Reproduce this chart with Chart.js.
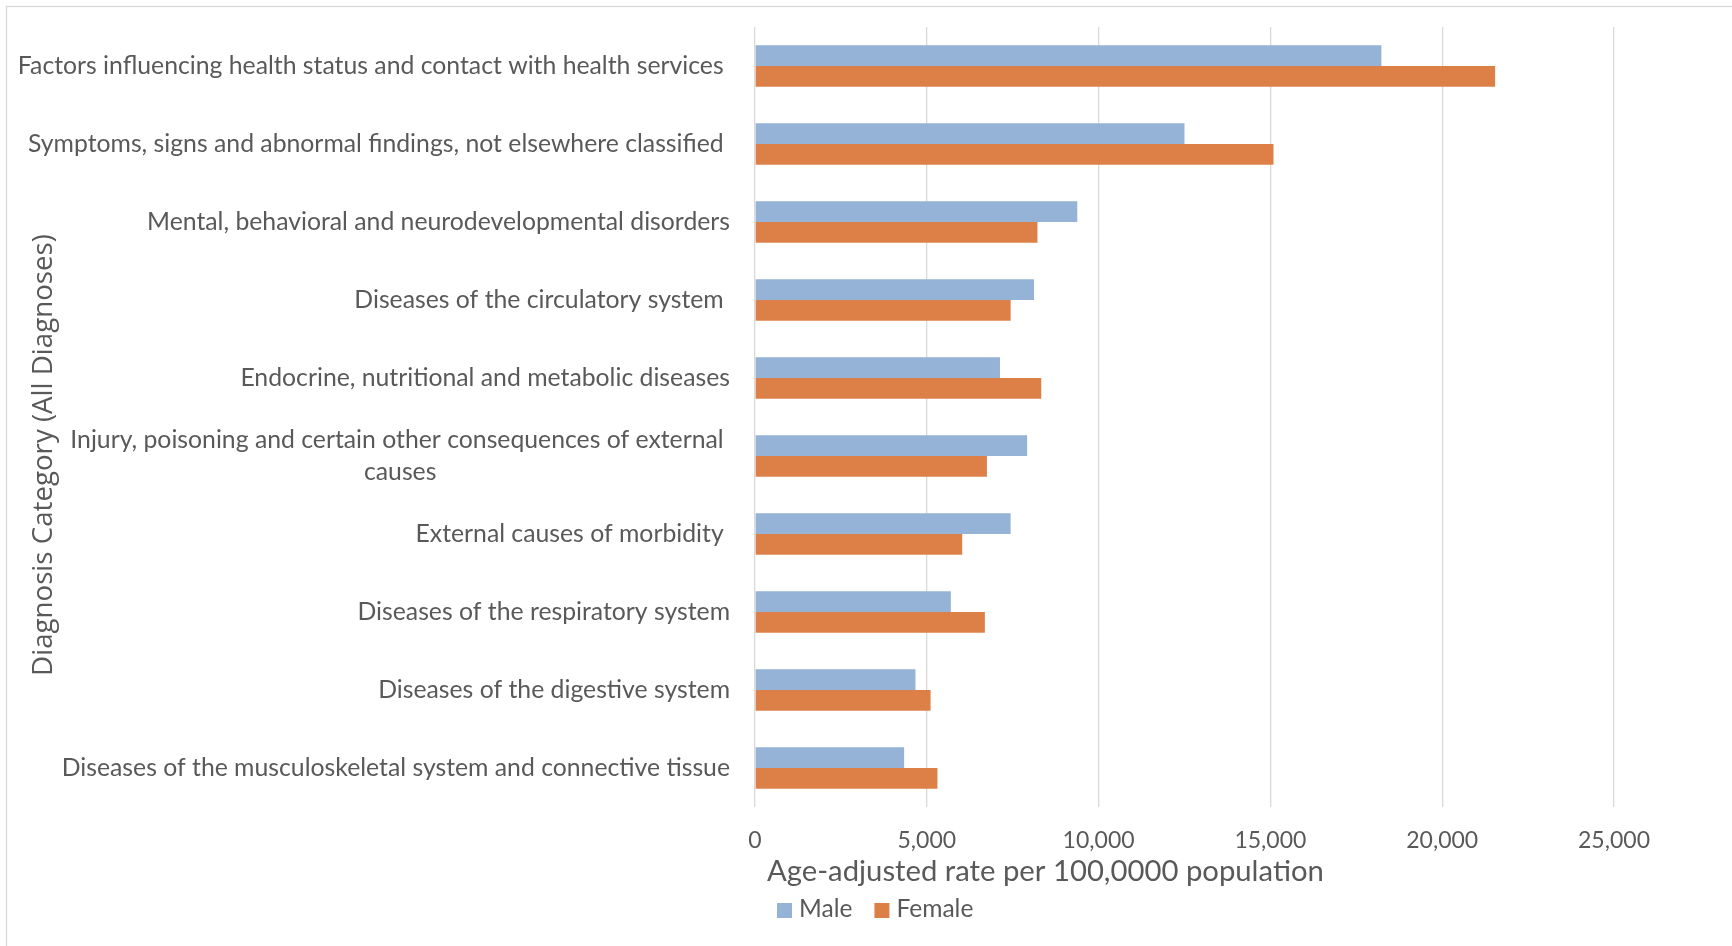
<!DOCTYPE html>
<html>
<head>
<meta charset="utf-8">
<script src="https://cdn.jsdelivr.net/npm/chart.js@4.4.1/dist/chart.umd.min.js"></script>
<style>
html,body{margin:0;padding:0;background:#fff;overflow:hidden}
#wrap{position:relative;width:1732px;height:946px}
canvas{display:block}
</style>
</head>
<body>
<div id="wrap"><canvas id="c" width="1732" height="946"></canvas></div>
<script>
// ---- data ----
const categories = [
  'Factors influencing health status and contact with health services ',
  'Symptoms, signs and abnormal findings, not elsewhere classified ',
  'Mental, behavioral and neurodevelopmental disorders',
  'Diseases of the circulatory system ',
  'Endocrine, nutritional and metabolic diseases',
  ['Injury, poisoning and certain other consequences of external ', 'causes'],
  'External causes of morbidity ',
  'Diseases of the respiratory system',
  'Diseases of the digestive system',
  'Diseases of the musculoskeletal system and connective tissue'
];
const seriesNames = ['Male', 'Female'];
const maleValues   = [18230, 12500, 9380, 8120, 7130, 7920, 7440, 5700, 4670, 4340];
const femaleValues = [21540, 15090, 8220, 7440, 8330, 6750, 6030, 6690, 5110, 5310];
const xTickValues = [0, 5000, 10000, 15000, 20000, 25000];
const xAxisTitle = 'Age-adjusted rate per 100,0000 population';
const yAxisTitle = 'Diagnosis Category (All Diagnoses)';

// ---- styles ----
const maleColor = '#95b3d7';
const femaleColor = '#dd8047';
const textColor = '#595959';
const gridColor = '#d9d9d9';
const mainFamily = 'Lato, "Liberation Sans", sans-serif';
const titleFamily = '"Open Sans", "Noto Sans", sans-serif';

const mctx = document.createElement('canvas').getContext('2d');
function fitSize(text, family, target) {
  mctx.font = '100px ' + family;
  return 100 * target / mctx.measureText(text).width;
}
const labelSize = fitSize('Factors influencing health status and contact with health services', mainFamily, 706);
const tickSize = fitSize('20,000', mainFamily, 72);
const xTitleSize = fitSize(xAxisTitle, mainFamily, 557);
const legendSize = fitSize('Female', mainFamily, 77);
const yTitleSize = fitSize(yAxisTitle, titleFamily, 442);

const overlay = {
  id: 'overlay',
  beforeDraw(chart) {
    const ctx = chart.ctx;
    ctx.save();
    ctx.fillStyle = '#ffffff';
    ctx.fillRect(0, 0, chart.width, chart.height);
    ctx.strokeStyle = gridColor;
    ctx.lineWidth = 1.3;
    ctx.strokeRect(6.5, 6.5, chart.width + 20, chart.height + 20);
    ctx.restore();
  },
  afterDraw(chart) {
    const ctx = chart.ctx;
    const ca = chart.chartArea;
    const ys = chart.scales.y;
    ctx.save();
    ctx.fillStyle = textColor;
    // category labels
    ctx.font = labelSize + 'px ' + mainFamily;
    ctx.textBaseline = 'middle';
    const rightX = ca.left - 25;
    categories.forEach((lab, i) => {
      const cy = ys.getPixelForValue(i);
      if (Array.isArray(lab)) {
        const widths = lab.map(l => ctx.measureText(l).width);
        const w = Math.max(...widths);
        const cx = rightX - w / 2;
        const lh = 32;
        const y0 = cy - (lab.length - 1) * lh / 2;
        ctx.textAlign = 'center';
        lab.forEach((l, k) => ctx.fillText(l, cx, y0 + k * lh));
      } else {
        ctx.textAlign = 'right';
        ctx.fillText(lab, rightX, cy);
      }
    });
    // x axis title
    ctx.font = xTitleSize + 'px ' + mainFamily;
    ctx.textAlign = 'left';
    ctx.textBaseline = 'alphabetic';
    ctx.fillText(xAxisTitle, ca.left + 12, ca.bottom + 74);
    // y axis title
    ctx.save();
    ctx.font = yTitleSize + 'px ' + titleFamily;
    ctx.translate(52, (ca.top + ca.bottom) / 2 + 38);
    ctx.rotate(-Math.PI / 2);
    ctx.textAlign = 'center';
    ctx.fillText(yAxisTitle, 0, 0);
    ctx.restore();
    // legend
    ctx.font = legendSize + 'px ' + mainFamily;
    ctx.textAlign = 'left';
    ctx.textBaseline = 'alphabetic';
    let x = ca.left + 22;
    const sq = 15;
    const baseY = ca.bottom + 110;
    chart.data.datasets.forEach(ds => {
      ctx.fillStyle = ds.backgroundColor;
      ctx.fillRect(x, baseY - 14, sq, sq);
      x += sq + 7;
      ctx.fillStyle = textColor;
      ctx.fillText(ds.label, x, baseY);
      x += ctx.measureText(ds.label).width + 22;
    });
    ctx.restore();
  }
};

new Chart(document.getElementById('c'), {
  type: 'bar',
  data: {
    labels: categories,
    datasets: [
      { label: seriesNames[0], data: maleValues, backgroundColor: maleColor, borderWidth: 0 },
      { label: seriesNames[1], data: femaleValues, backgroundColor: femaleColor, borderWidth: 0 }
    ]
  },
  options: {
    indexAxis: 'y',
    responsive: false,
    animation: false,
    devicePixelRatio: 1,
    layout: { padding: { top: 27, right: 118, left: 0, bottom: 0 } },
    datasets: { bar: { categoryPercentage: 0.53, barPercentage: 1.0 } },
    plugins: {
      legend: { display: false },
      tooltip: { enabled: false },
      title: { display: false }
    },
    scales: {
      y: {
        type: 'category',
        ticks: { display: false },
        grid: { display: false },
        border: { display: false },
        afterFit(s) { s.width = 755; }
      },
      x: {
        type: 'linear',
        position: 'bottom',
        min: xTickValues[0],
        max: xTickValues[xTickValues.length - 1],
        afterBuildTicks(s) { s.ticks = xTickValues.map(v => ({ value: v })); },
        ticks: {
          color: textColor,
          font: { family: mainFamily, size: tickSize },
          padding: 34 - 0.6 * tickSize,
          maxRotation: 0,
          autoSkip: false,
          callback: v => Number(v).toLocaleString('en-US')
        },
        grid: { color: gridColor, lineWidth: 1.3, drawTicks: false },
        border: { display: false },
        afterFit(s) { s.height = 139; }
      }
    }
  },
  plugins: [overlay]
});
</script>
</body>
</html>
